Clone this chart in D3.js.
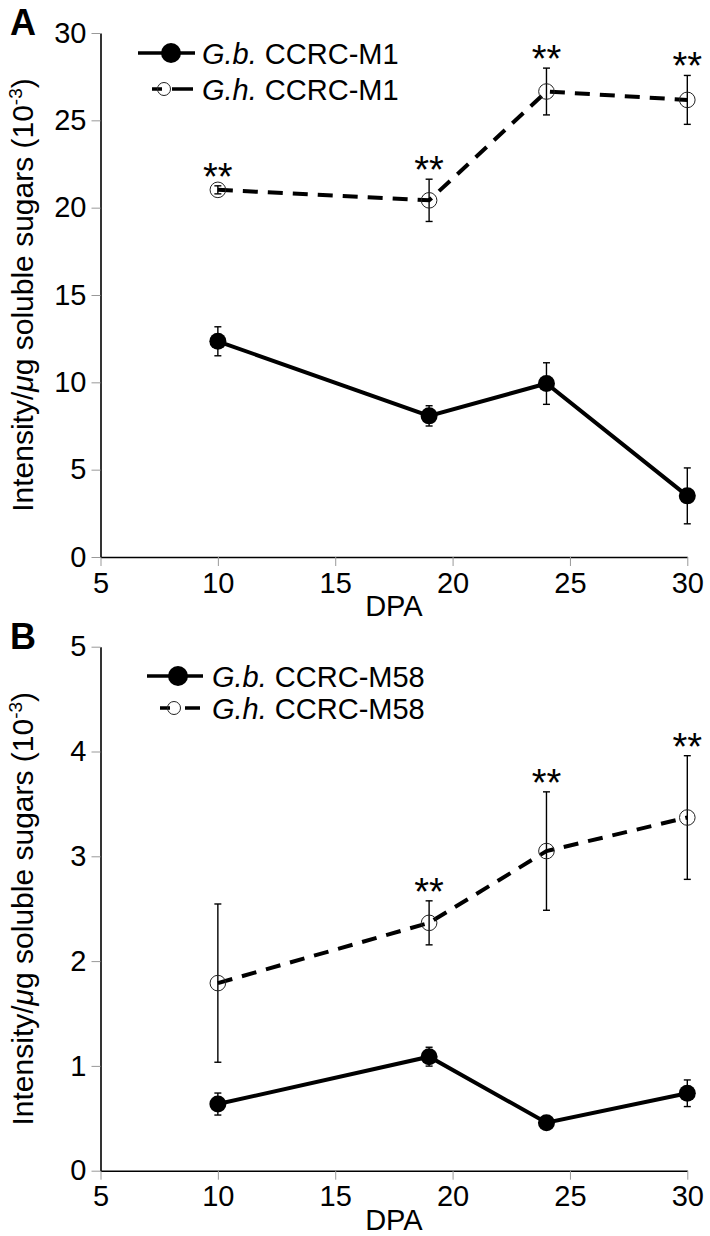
<!DOCTYPE html>
<html>
<head>
<meta charset="utf-8">
<script src="https://cdn.jsdelivr.net/npm/d3@7"></script>
<style>
  html, body { margin: 0; padding: 0; background: #fff; }
  svg { display: block; font-family: "Liberation Sans", Arial, Helvetica, sans-serif; }
</style>
</head>
<body>
<svg id="chart" width="710" height="1236"></svg>
<script>
// ---------- data ----------
const dpa = [10, 19, 24, 30];
const xTicks = [5, 10, 15, 20, 25, 30];

const gbM1 = [12.35, 8.08, 9.93, 3.5];
const gbM1Err = [0.83, 0.58, 1.19, 1.6];
const ghM1 = [21.02, 20.42, 26.65, 26.17];
const ghM1Err = [0.23, 1.21, 1.34, 1.4];
const ghM1Sig = ["**", "**", "**", "**"];
const yTicksA = [0, 5, 10, 15, 20, 25, 30];

const gbM58 = [0.636, 1.088, 0.458, 0.739];
const gbM58Err = [0.105, 0.09, 0.03, 0.127];
const ghM58 = [1.79, 2.365, 3.05, 3.37];
const ghM58Err = [0.755, 0.21, 0.565, 0.59];
const ghM58Sig = ["", "**", "**", "**"];
const yTicksB = [0, 1, 2, 3, 4, 5];

const legendA = ["G.b.", "G.h."];
const legendB = ["G.b.", "G.h."];
const legendSuffixA = " CCRC-M1";
const legendSuffixB = " CCRC-M58";

// ---------- drawing ----------
const svg = d3.select("#chart");
const FONT = 29;

function panel(opts) {
  const g = svg.append("g");
  const x = d3.scaleLinear().domain([5, 30]).range([100.5, 687.3]);
  const y = d3.scaleLinear().domain([0, opts.yMax]).range([opts.y0, opts.yTop]);

  // axes
  const ax = g.append("g").attr("transform", `translate(0,${opts.y0})`)
    .call(d3.axisBottom(x).tickValues(xTicks).tickSize(9).tickSizeOuter(0).tickPadding(6).tickFormat(d3.format("d")));
  const ay = g.append("g").attr("transform", `translate(${x(5)},0)`)
    .call(d3.axisLeft(y).tickValues(opts.yTicks).tickSize(9).tickSizeOuter(0).tickPadding(5).tickFormat(d3.format("d")));
  [ax, ay].forEach(a => {
    a.select(".domain").attr("stroke", "#000").attr("stroke-width", 1.6);
    a.selectAll(".tick line").attr("stroke", "#999").attr("stroke-width", 1);
    a.selectAll(".tick text").attr("fill", "#000").style("font-size", FONT + "px")
      .style("font-family", '"Liberation Sans", Arial, sans-serif');
  });
  ax.selectAll(".tick text").attr("dy", "0.71em");

  // x label
  g.append("text").attr("x", (x(5) + x(30)) / 2).attr("y", opts.y0 + 59)
    .attr("text-anchor", "middle").style("font-size", FONT + "px").text("DPA");

  // y label
  const yl = g.append("text")
    .attr("transform", `translate(33,${(opts.y0 + opts.yTop) / 2}) rotate(-90)`)
    .attr("text-anchor", "middle").style("font-size", "30px");
  yl.append("tspan").text("Intensity/");
  yl.append("tspan").style("font-style", "italic").text("\u03bc");
  yl.append("tspan").text("g soluble sugars (10");
  yl.append("tspan").attr("dy", -11).style("font-size", "19px").text("-3");
  yl.append("tspan").attr("dy", 11).text(")");

  // panel letter
  g.append("text").attr("x", 10).attr("y", opts.yTop + 2)
    .style("font-size", "36px").style("font-weight", "bold").text(opts.letter);

  const line = d3.line().x((d, i) => x(dpa[i])).y(d => y(d));

  // G.h. dashed line
  g.append("path").datum(opts.gh).attr("d", line)
    .attr("fill", "none").attr("stroke", "#000").attr("stroke-width", 4)
    .attr("stroke-dasharray", "15,10");
  // G.b. solid line
  g.append("path").datum(opts.gb).attr("d", line)
    .attr("fill", "none").attr("stroke", "#000").attr("stroke-width", 4);

  // error bars
  function errBars(vals, errs) {
    const eb = g.append("g").attr("stroke", "#000").attr("stroke-width", 1.4);
    vals.forEach((v, i) => {
      const cx = x(dpa[i]), t = y(v + errs[i]), b = y(v - errs[i]);
      eb.append("line").attr("x1", cx).attr("x2", cx).attr("y1", t).attr("y2", b);
      eb.append("line").attr("x1", cx - 3.5).attr("x2", cx + 3.5).attr("y1", t).attr("y2", t);
      eb.append("line").attr("x1", cx - 3.5).attr("x2", cx + 3.5).attr("y1", b).attr("y2", b);
    });
  }
  errBars(opts.gh, opts.ghErr);
  errBars(opts.gb, opts.gbErr);

  // markers
  g.selectAll(".gh").data(opts.gh).enter().append("circle")
    .attr("cx", (d, i) => x(dpa[i])).attr("cy", d => y(d)).attr("r", 7.8)
    .attr("fill", "none").attr("stroke", "#222").attr("stroke-width", 1);
  g.selectAll(".gb").data(opts.gb).enter().append("circle")
    .attr("cx", (d, i) => x(dpa[i])).attr("cy", d => y(d)).attr("r", 8.5)
    .attr("fill", "#000");

  // significance
  g.selectAll(".sig").data(opts.sig).enter().append("text")
    .attr("x", (d, i) => x(dpa[i])).attr("y", (d, i) => y(opts.gh[i] + opts.ghErr[i]) + 4)
    .attr("text-anchor", "middle").style("font-size", "38px")
    .text(d => d);

  // legend
  const L = opts.legend;
  const lg = g.append("g");
  lg.append("line").attr("x1", L.l1x1).attr("x2", L.l1x2).attr("y1", L.r1).attr("y2", L.r1)
    .attr("stroke", "#000").attr("stroke-width", 3.5);
  lg.append("circle").attr("cx", L.c1).attr("cy", L.r1).attr("r", 10).attr("fill", "#000");
  lg.append("line").attr("x1", L.l2x1).attr("x2", L.l2x2).attr("y1", L.r2).attr("y2", L.r2)
    .attr("stroke", "#000").attr("stroke-width", 3.5).attr("stroke-dasharray", L.dash);
  lg.append("circle").attr("cx", L.c2).attr("cy", L.r2).attr("r", 6.5)
    .attr("fill", "none").attr("stroke", "#222").attr("stroke-width", 1);
  [[L.r1, opts.names[0]], [L.r2, opts.names[1]]].forEach(([ry, nm]) => {
    const t = lg.append("text").attr("x", L.tx).attr("y", ry + 10.5).style("font-size", "29px");
    t.append("tspan").style("font-style", "italic").text(nm);
    t.append("tspan").text(opts.suffix);
  });
}

panel({
  letter: "A", y0: 557, yTop: 33, yMax: 30, yTicks: yTicksA,
  gb: gbM1, gbErr: gbM1Err, gh: ghM1, ghErr: ghM1Err, sig: ghM1Sig,
  names: legendA, suffix: legendSuffixA,
  legend: { r1: 53, r2: 89, l1x1: 138, l1x2: 195, c1: 171, l2x1: 152, l2x2: 193, c2: 164, dash: "10,10,21", tx: 202 }
});
panel({
  letter: "B", y0: 1170.7, yTop: 646.7, yMax: 5, yTicks: yTicksB,
  gb: gbM58, gbErr: gbM58Err, gh: ghM58, ghErr: ghM58Err, sig: ghM58Sig,
  names: legendB, suffix: legendSuffixB,
  legend: { r1: 676, r2: 708, l1x1: 147, l1x2: 203, c1: 178, l2x1: 160, l2x2: 200, c2: 174, dash: "10,15,15", tx: 212 }
});
</script>
</body>
</html>
